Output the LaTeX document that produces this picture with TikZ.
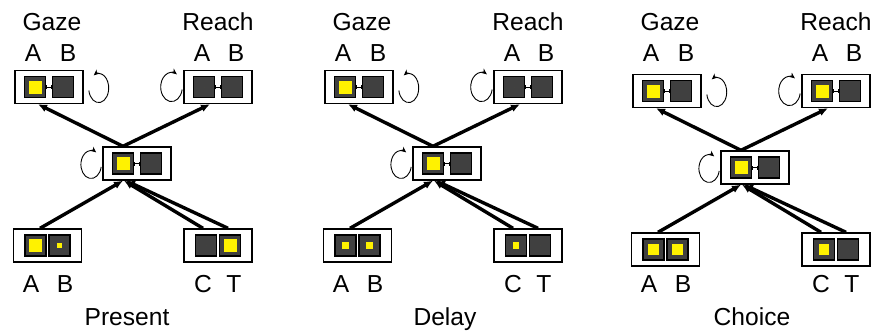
\documentclass[tikz,border=0pt]{standalone}
\usepackage{fontspec}
\setmainfont{Liberation Sans}
\usetikzlibrary{arrows.meta}

\definecolor{cellgray}{RGB}{64,64,64}
\tikzset{
  unit/.style={draw=black, line width=0.7pt, fill=white, minimum width=34pt, minimum height=16.5pt, inner sep=0pt},
  cell/.style={draw=black, line width=0.6pt, fill=cellgray, minimum size=10.5pt, inner sep=0pt},
  glow/.style={fill=yellow, minimum size=#1, inner sep=0pt},
  lbl/.style={font=\fontsize{12.3}{14}\selectfont, inner sep=0pt, anchor=base},
  feed/.style={line width=1.7pt, -{Latex[length=4.5pt,width=4pt]}},
  recur/.style={line width=0.45pt, -{Stealth[length=3pt,width=2.6pt]}},
  tie/.style={line width=0.5pt, {Bar[width=2pt]}-{Bar[width=2pt]}},
}

\begin{document}
\begin{tikzpicture}[x=0.5pt, y=-0.5pt]
\useasboundingbox (0,0) rectangle (888,333);

\foreach \px/\dy/\ttl/\tx/\ga/\ra/\ba/\bb/\bc/\bt in {
    0/0/Present/127/6.5pt/0pt/6.5pt/2.5pt/0pt/6.5pt,
    310/0/Delay/135/6.5pt/0pt/3.4pt/3.4pt/3.4pt/0pt,
    618/4/Choice/134/6.5pt/6.5pt/5.3pt/5.3pt/5.3pt/0pt}{
\begin{scope}[shift={(\px,0)}]

% labels
\node[lbl] (\ttl-gt) at (52,30) {Gaze};
\node[lbl] (\ttl-ga) at (33,61) {A};
\node[lbl] (\ttl-gb) at (68,61) {B};
\node[lbl] (\ttl-rt) at (218,30) {Reach};
\node[lbl] (\ttl-ra) at (202,61) {A};
\node[lbl] (\ttl-rb) at (236,61) {B};
\node[lbl] (\ttl-ba) at (31,292) {A};
\node[lbl] (\ttl-bb) at (65,292) {B};
\node[lbl] (\ttl-bc) at (203,292) {C};
\node[lbl] (\ttl-bt) at (234,292) {T};
\node[lbl] (\ttl-tt) at (\tx,325) {\ttl};

% gaze unit
\node[unit] (\ttl-gz) at (49,87+\dy) {};
\node[cell] (\ttl-gz1) at ([xshift=-7pt]\ttl-gz.center) {};
\node[cell] (\ttl-gz2) at ([xshift=7pt]\ttl-gz.center) {};
\node[glow=\ga] (\ttl-gzy) at (\ttl-gz1) {};
\draw[tie] (\ttl-gz1.east) -- (\ttl-gz2.west);

% reach unit
\node[unit] (\ttl-rc) at (218,87+\dy) {};
\node[cell] (\ttl-rc1) at ([xshift=-7pt]\ttl-rc.center) {};
\node[cell] (\ttl-rc2) at ([xshift=7pt]\ttl-rc.center) {};
\node[glow=\ra] (\ttl-rcy) at (\ttl-rc1) {};
\draw[tie] (\ttl-rc1.east) -- (\ttl-rc2.west);

% middle unit
\node[unit] (\ttl-md) at (137,163.5+\dy) {};
\node[cell] (\ttl-md1) at ([xshift=-7pt]\ttl-md.center) {};
\node[cell] (\ttl-md2) at ([xshift=7pt]\ttl-md.center) {};
\node[glow=6.5pt] (\ttl-mdy) at (\ttl-md1) {};
\draw[tie] (\ttl-md1.east) -- (\ttl-md2.west);

% inputs
\node[unit] (\ttl-bl) at (47.5,245.5+\dy) {};
\node[cell] (\ttl-bl1) at ([xshift=-6pt]\ttl-bl.center) {};
\node[cell] (\ttl-bl2) at ([xshift=6pt]\ttl-bl.center) {};
\node[glow=\ba] (\ttl-bly) at (\ttl-bl1) {};
\node[glow=\bb] (\ttl-blz) at (\ttl-bl2) {};
\node[unit] (\ttl-br) at (218,245.5+\dy) {};
\node[cell] (\ttl-br1) at ([xshift=-6pt]\ttl-br.center) {};
\node[cell] (\ttl-br2) at ([xshift=6pt]\ttl-br.center) {};
\node[glow=\bc] (\ttl-bry) at (\ttl-br1) {};
\node[glow=\bt] (\ttl-brz) at (\ttl-br2) {};

% connections
\draw[feed] ([xshift=-7pt]\ttl-md.north) -- ([xshift=-5.5pt]\ttl-gz.south);
\draw[feed] ([xshift=-7pt]\ttl-md.north) -- ([xshift=-4pt]\ttl-rc.south);
\draw[feed] ([xshift=-3.75pt]\ttl-bl.north) -- ([xshift=-7pt]\ttl-md.south);
\draw[feed] ([xshift=-7.5pt]\ttl-br.north) -- ([xshift=-6.5pt]\ttl-md.south);
\draw[feed] ([xshift=5pt]\ttl-br.north) -- ([xshift=-5.5pt]\ttl-md.south);

% self loops
\draw[recur] ([xshift=7.5pt,yshift=-0.5pt]\ttl-gz.east) ++(190:5pt and 7.3pt)
  arc[start angle=190, end angle=480, x radius=5pt, y radius=7.3pt];
\draw[recur] ([xshift=-5.9pt]\ttl-rc.west) ++(350:5.4pt and 7.3pt)
  arc[start angle=350, end angle=60, x radius=5.4pt, y radius=7.3pt];
\draw[recur] ([xshift=-5.6pt,yshift=-0.5pt]\ttl-md.west) ++(350:5.1pt and 7pt)
  arc[start angle=350, end angle=60, x radius=5.1pt, y radius=7pt];
\end{scope}
}
\end{tikzpicture}
\end{document}
